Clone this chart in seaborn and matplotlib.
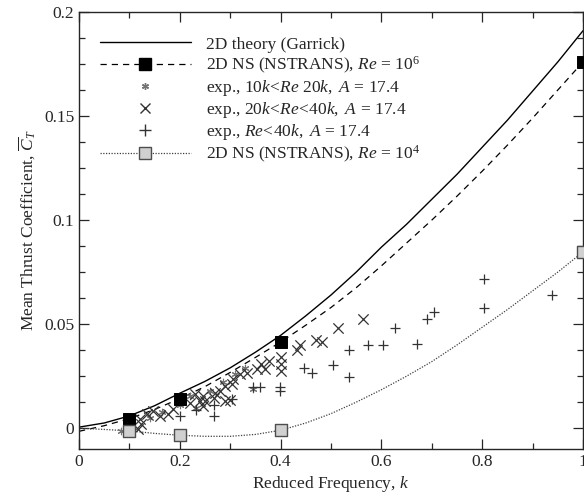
import matplotlib
matplotlib.use("Agg")
import matplotlib.pyplot as plt
import seaborn as sns
from matplotlib.lines import Line2D
from matplotlib.ticker import MultipleLocator, FixedLocator

# --- data ---
k_curve = [0, 0.05, 0.1, 0.15, 0.2, 0.25, 0.3, 0.35, 0.4, 0.45, 0.5,
           0.55, 0.6, 0.65, 0.7, 0.75, 0.8, 0.85, 0.9, 0.95, 1.0]
ct_garrick = [0.0005, 0.0025, 0.0059, 0.0108, 0.0168, 0.0225, 0.0290, 0.0365, 0.0446, 0.0540, 0.0640,
              0.0750, 0.0870, 0.0980, 0.1100, 0.1220, 0.1350, 0.1480, 0.1620, 0.1760, 0.1910]
ct_ns6_line = [-0.0015, 0.0012, 0.0046, 0.0090, 0.0142, 0.0200, 0.0268, 0.0340, 0.0414, 0.0495, 0.0580,
               0.0675, 0.0780, 0.0890, 0.1000, 0.1115, 0.1235, 0.1360, 0.1490, 0.1625, 0.1760]
ct_ns4_line = [0.0, -0.0006, -0.0013, -0.0025, -0.0034, -0.0039, -0.0039, -0.0030, -0.0010, 0.0025, 0.0070,
               0.0125, 0.0185, 0.0250, 0.0320, 0.0400, 0.0485, 0.0570, 0.0660, 0.0750, 0.0847]

k_ns = [0.1, 0.2, 0.4, 1.0]
ct_ns6 = [0.0046, 0.0142, 0.0414, 0.176]
ct_ns4 = [-0.0013, -0.0034, -0.0010, 0.0847]

k_star = [0.083, 0.105, 0.14, 0.165, 0.20, 0.22, 0.233, 0.26, 0.285, 0.31, 0.33, 0.345]
ct_star = [-0.0015, 0.0010, 0.0050, 0.0080, 0.0110, 0.0155, 0.0095, 0.0180, 0.0220, 0.0260, 0.0290, 0.0190]

k_cross = [0.118, 0.121, 0.124, 0.134, 0.147, 0.161, 0.177, 0.187, 0.22, 0.23, 0.24, 0.247, 0.247,
           0.25, 0.267, 0.27, 0.28, 0.29, 0.29, 0.30, 0.303, 0.306, 0.319, 0.333, 0.353, 0.362,
           0.369, 0.376, 0.401, 0.401, 0.401, 0.433, 0.438, 0.470, 0.483, 0.513, 0.563]
ct_cross = [-0.0005, 0.0043, 0.0019, 0.0067, 0.0083, 0.0059, 0.0067, 0.0091, 0.0123, 0.0163, 0.0131,
            0.0155, 0.0107, 0.0131, 0.0147, 0.0171, 0.0179, 0.0203, 0.0131, 0.0136, 0.0211, 0.0235,
            0.0259, 0.0267, 0.0283, 0.0307, 0.0283, 0.0323, 0.0344, 0.0307, 0.0275, 0.0374, 0.0398,
            0.0424, 0.0416, 0.0483, 0.0526]

k_plus = [0.200, 0.232, 0.268, 0.268, 0.303, 0.346, 0.359, 0.399, 0.399, 0.446, 0.462, 0.503,
          0.536, 0.536, 0.574, 0.604, 0.626, 0.671, 0.690, 0.704, 0.804, 0.804, 0.938]
ct_plus = [0.0060, 0.0088, 0.0110, 0.0059, 0.0139, 0.0200, 0.0200, 0.0200, 0.0179, 0.0291, 0.0267,
           0.0302, 0.0374, 0.0248, 0.0398, 0.0398, 0.0480, 0.0403, 0.0526, 0.0558, 0.0718, 0.0579,
           0.0638]

labels = ["2D theory (Garrick)",
          r"2D NS (NSTRANS), $\mathit{Re\,=\,10^6}$",
          r"exp., $\mathit{10k\!<\!Re\ 20k,\ A\,=\,17.4}$",
          r"exp., $\mathit{20k\!<\!Re\!<\!40k,\ A\,=\,17.4}$",
          r"exp., $\mathit{Re\!<\!40k,\ A\,=\,17.4}$",
          r"2D NS (NSTRANS), $\mathit{Re\,=\,10^4}$"]

sns.set_style("ticks")
plt.rcParams["font.family"] = ["Liberation Serif", "DejaVu Serif"]
plt.rcParams["mathtext.fontset"] = "custom"
plt.rcParams["mathtext.rm"] = "Liberation Serif"
plt.rcParams["mathtext.it"] = "Liberation Serif:italic"
plt.rcParams["font.size"] = 12.5

fig = plt.figure(figsize=(5.84, 4.97), dpi=100)
ax = fig.add_axes([79 / 584, 1 - 449 / 497, 504 / 584, 437 / 497])

# curves
sns.lineplot(x=k_curve, y=ct_garrick, ax=ax, color="black", lw=1.0, sort=False)
sns.lineplot(x=k_curve, y=ct_ns6_line, ax=ax, color="black", lw=0.9, sort=False, linestyle=(0, (5, 4)))
sns.lineplot(x=k_curve, y=ct_ns4_line, ax=ax, color="0.25", lw=0.9, sort=False, linestyle=(0, (1, 1.2)))

# experiments
sns.scatterplot(x=k_star, y=ct_star, ax=ax, marker=(6, 2, 0), color="0.45", s=22, linewidth=0.8, zorder=3)
sns.scatterplot(x=k_cross, y=ct_cross, ax=ax, marker="x", color="0.2", s=55, linewidth=0.9, zorder=3)
sns.scatterplot(x=k_plus, y=ct_plus, ax=ax, marker="+", color="0.2", s=60, linewidth=0.9, zorder=3)

# NS computations
sns.scatterplot(x=k_ns, y=ct_ns6, ax=ax, marker="s", color="black", s=75, edgecolor="black", zorder=5)
sns.scatterplot(x=k_ns, y=ct_ns4, ax=ax, marker="s", color="#d0d0d0", s=75, edgecolor="0.3",
                linewidth=1.0, zorder=5, clip_on=False)

ax.set_xlim(0, 1)
ax.set_ylim(-0.01, 0.2)
ax.xaxis.set_major_locator(FixedLocator([0, 0.2, 0.4, 0.6, 0.8, 1.0]))
ax.set_xticklabels(["0", "0.2", "0.4", "0.6", "0.8", "1"])
ax.xaxis.set_minor_locator(MultipleLocator(0.1))
ax.yaxis.set_major_locator(FixedLocator([0, 0.05, 0.1, 0.15, 0.2]))
ax.set_yticklabels(["0", "0.05", "0.1", "0.15", "0.2"])
ax.yaxis.set_minor_locator(MultipleLocator(0.0125))
ax.tick_params(which="both", direction="in", top=True, right=True, labelsize=12.5, width=0.9)
ax.tick_params(which="major", length=7)
ax.tick_params(which="minor", length=4)
for s in ax.spines.values():
    s.set_linewidth(1.0)

ax.set_xlabel("Reduced Frequency, $\\mathit{k}$", fontsize=12.5, labelpad=3)
ax.set_ylabel(r"Mean Thrust Coefficient, $\overline{\mathit{C}}_\mathit{T}$", fontsize=12.5, labelpad=4)

handles = [
    Line2D([], [], color="black", lw=1.0),
    Line2D([], [], color="black", lw=0.9, linestyle=(0, (5, 4)), marker="s", markersize=8.5),
    Line2D([], [], color="0.45", lw=0, marker=(6, 2, 0), markersize=5),
    Line2D([], [], color="0.2", lw=0, marker="x", markersize=7.5),
    Line2D([], [], color="0.2", lw=0, marker="+", markersize=8),
    Line2D([], [], color="0.25", lw=0.9, linestyle=(0, (1, 1.2)), marker="s", markersize=8.5,
           markerfacecolor="#d0d0d0", markeredgecolor="0.3"),
]
ax.legend(handles, labels, loc="upper left", bbox_to_anchor=(0.018, 0.972), frameon=False,
          numpoints=1, handlelength=5.2, handletextpad=0.9, labelspacing=0.12, fontsize=12.5,
          borderaxespad=0.3)

fig.savefig("out.png", dpi=100)
